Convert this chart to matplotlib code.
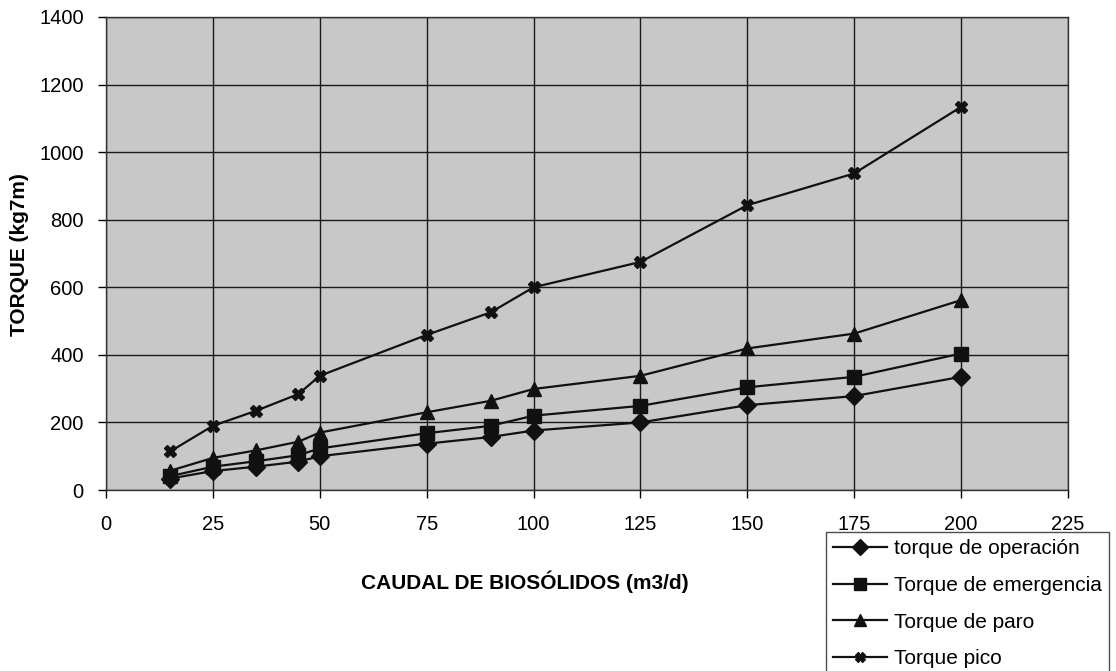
import matplotlib
matplotlib.use("Agg")
import numpy as np
from matplotlib import pyplot as plt

plt.rcParams['font.family'] = ['Liberation Sans', 'DejaVu Sans']

# caudal (m3/d)
caudal = [15, 25, 35, 45, 50, 75, 90, 100, 125, 150, 175, 200]

# torques (kg7m)
t_operacion = [34, 56, 69, 84, 100, 137, 157, 176, 200, 251, 278, 335]
t_emergencia = [41, 69, 85, 103, 123, 168, 190, 220, 249, 304, 335, 404]
t_paro = [57, 95, 117, 143, 170, 230, 264, 299, 338, 419, 463, 562]
t_pico = [114, 190, 234, 284, 338, 459, 526, 600, 675, 843, 937, 1134]

labels = ['torque de operación', 'Torque de emergencia', 'Torque de paro', 'Torque pico']

fig = plt.figure(figsize=(11.16, 6.71), dpi=100)
ax = fig.add_axes([106/1116, 1-490/671, (1068-106)/1116, (490-17)/671])
ax.set_facecolor('#c8c8c8')

col = '#111111'
ax.plot(caudal, t_operacion, color=col, lw=1.6, marker='D', ms=9, label=labels[0])
ax.plot(caudal, t_emergencia, color=col, lw=1.6, marker='s', ms=10, label=labels[1])
ax.plot(caudal, t_paro, color=col, lw=1.6, marker='^', ms=10, label=labels[2])
ax.plot(caudal, t_pico, color=col, lw=1.6, marker='X', ms=8, label=labels[3])

ax.set_xlim(0, 225)
ax.set_ylim(0, 1400)
ax.set_xticks(np.arange(0, 226, 25))
ax.set_yticks(np.arange(0, 1401, 200))
ax.grid(True, color='#1a1a1a', lw=1)
ax.set_axisbelow(True)
for s in ax.spines.values():
    s.set_color('#333333')
    s.set_linewidth(1)
ax.tick_params(labelsize=14.5, length=6, width=1, direction='out')
ax.tick_params(axis='x', pad=12)
ax.tick_params(axis='y', pad=10)

fig.text(525/1116, 1-582/671, 'CAUDAL DE BIOSÓLIDOS (m3/d)', ha='center', va='center',
         fontsize=15, fontweight='bold')
fig.text(20/1116, 1-255/671, 'TORQUE (kg7m)', ha='center', va='center',
         rotation=90, fontsize=15, fontweight='bold')

leg = fig.legend(loc='upper left', bbox_to_anchor=(826/1116, 1-532/671),
                 fontsize=15, frameon=True, fancybox=False, borderaxespad=0,
                 handlelength=2.6, handletextpad=0.3, labelspacing=0.85,
                 borderpad=0.35, markerscale=0.85)
leg.get_frame().set_edgecolor('#222222')
leg.get_frame().set_linewidth(1)

fig.savefig('out.png', dpi=100)
